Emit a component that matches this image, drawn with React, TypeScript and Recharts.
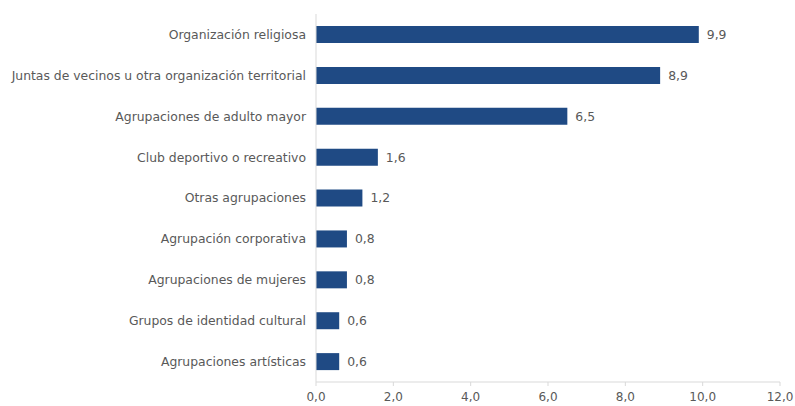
import React from "react";
import { BarChart, Bar, XAxis, YAxis, LabelList } from "recharts";

const categories = [
  "Organización religiosa",
  "Juntas de vecinos u otra organización territorial",
  "Agrupaciones de adulto mayor",
  "Club deportivo o recreativo",
  "Otras agrupaciones",
  "Agrupación corporativa",
  "Agrupaciones de mujeres",
  "Grupos de identidad cultural",
  "Agrupaciones artísticas",
];
const values = [9.9, 8.9, 6.5, 1.6, 1.2, 0.8, 0.8, 0.6, 0.6];
const xTicks = [0, 2, 4, 6, 8, 10, 12];

const data = categories.map((name, i) => ({ name, value: values[i] }));

const fmt = (v: any) => Number(v).toFixed(1).replace(".", ",");

const font = { fontFamily: "DejaVu Sans, Verdana, sans-serif", fontSize: 12.4, fill: "#595959" };
const xFont = { ...font, fontSize: 12 };

export default function App() {
  return (
    <div style={{ position: "absolute", left: 0, top: 0, background: "#fff" }}>
      <BarChart
        width={795}
        height={406}
        data={data}
        layout="vertical"
        margin={{ top: 14, right: 15, bottom: 0, left: 0 }}
        barCategoryGap={0}
      >
        <XAxis
          type="number"
          domain={[0, 12]}
          ticks={xTicks}
          tickFormatter={fmt}
          height={24}
          stroke="#d9d9d9"
          tickSize={4}
          tickMargin={6}
          tick={xFont}
          interval={0}
        />
        <YAxis
          type="category"
          dataKey="name"
          width={316}
          stroke="#d9d9d9"
          tickLine={false}
          tickSize={0}
          tickMargin={10}
          tick={font}
          interval={0}
        />
        <Bar dataKey="value" fill="#1f4a84" barSize={17} isAnimationActive={false}>
          <LabelList dataKey="value" position="right" offset={8} formatter={fmt} style={font} />
        </Bar>
      </BarChart>
    </div>
  );
}
